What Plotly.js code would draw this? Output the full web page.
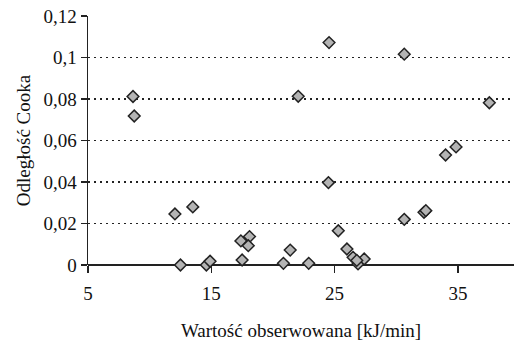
<!DOCTYPE html>
<html>
<head>
<meta charset="utf-8">
<script src="https://cdn.plot.ly/plotly-3.0.1.min.js"></script>
<style>html,body{margin:0;padding:0;background:#fff;}#chart{width:514px;height:344px;}</style>
</head>
<body>
<div id="chart"></div>
<script>
const xObserved = [8.65, 8.75, 12.05, 13.5, 12.5, 14.6, 14.9, 17.4, 18.1, 18.0, 17.5,
  20.85, 21.4, 22.9, 24.5, 25.3, 26.0, 26.5, 26.9, 27.4, 26.8,
  30.65, 32.25, 32.4, 24.55, 30.65, 22.05, 37.55, 34.0, 34.85];
const cookDistance = [0.0812, 0.0718, 0.0246, 0.028, 0.0, 0.0, 0.0018, 0.0116, 0.0137, 0.0093, 0.0024,
  0.0008, 0.0072, 0.0008, 0.0397, 0.0165, 0.0077, 0.0037, 0.0005, 0.0029, 0.0022,
  0.022, 0.0254, 0.0262, 0.1072, 0.1016, 0.0813, 0.0782, 0.053, 0.0569];
const xTitle = 'Wartość obserwowana [kJ/min]';
const yTitle = 'Odległość Cooka';

const fontFam = '"Liberation Serif", "DejaVu Serif", serif';
Plotly.newPlot('chart', [{
  type: 'scatter', mode: 'markers', x: xObserved, y: cookDistance, cliponaxis: false,
  marker: {symbol: 'diamond', size: 9, color: '#b4b4b4', line: {color: '#222', width: 1.5}}
}], {
  width: 514, height: 344,
  margin: {l: 88, r: 0, t: 16, b: 79},
  paper_bgcolor: '#fff', plot_bgcolor: '#fff',
  separators: ',.',
  showlegend: false,
  font: {family: fontFam, size: 19, color: '#111'},
  xaxis: {
    range: [5, 39.55], tick0: 5, dtick: 10, showgrid: false, zeroline: false,
    showline: false, ticks: 'outside', ticklen: 7, tickcolor: '#222', tickwidth: 1.5,
    ticklabelstandoff: 4,
    title: {text: xTitle, font: {family: fontFam, size: 19}, standoff: 20}
  },
  yaxis: {
    range: [0, 0.12], dtick: 0.02, showgrid: true, gridcolor: '#222', griddash: '2px,4px', gridwidth: 1.2,
    zeroline: true, zerolinecolor: '#222', zerolinewidth: 1.5,
    showline: true, linecolor: '#222', linewidth: 1.5,
    ticks: 'outside', ticklen: 6, tickcolor: '#222', tickwidth: 1.5,
    title: {text: yTitle, font: {family: fontFam, size: 19}, standoff: 8}
  }
}, {displayModeBar: false, staticPlot: true});
</script>
</body>
</html>
